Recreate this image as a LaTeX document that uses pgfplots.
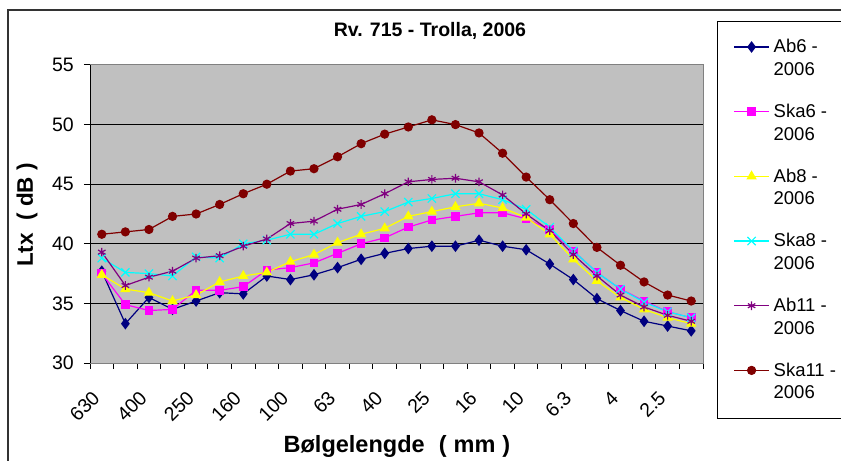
\documentclass[border=0pt]{standalone}
\usepackage{fontspec}
\setmainfont{Liberation Sans}
\usepackage{pgfplots}
\usepackage{pgfplotstable}
\pgfplotsset{compat=1.18}
\definecolor{plotgray}{RGB}{192,192,192}
\definecolor{cnavy}{RGB}{0,0,128}
\definecolor{cmag}{RGB}{255,0,255}
\definecolor{cyel}{RGB}{255,255,0}
\definecolor{ccyan}{RGB}{0,255,255}
\definecolor{cpurp}{RGB}{128,0,128}
\definecolor{cdred}{RGB}{128,0,0}

% Lt values per wavelength band (630 mm ... 2 mm)
\pgfplotstableread{
i  Ab6  Ska6 Ab8  Ska8 Ab11 Ska11
0  37.7 37.5 37.4 38.8 39.3 40.8
1  33.3 34.9 36.2 37.6 36.5 41.0
2  35.5 34.4 35.9 37.5 37.2 41.2
3  34.5 34.5 35.2 37.3 37.7 42.3
4  35.2 36.1 35.7 38.9 38.8 42.5
5  35.9 36.1 36.8 38.8 39.0 43.3
6  35.8 36.4 37.3 40.0 39.8 44.2
7  37.3 37.8 37.6 40.3 40.4 45.0
8  37.0 38.0 38.5 40.8 41.7 46.1
9  37.4 38.4 39.1 40.8 41.9 46.3
10 38.0 39.2 40.1 41.7 42.9 47.3
11 38.7 40.0 40.8 42.3 43.3 48.4
12 39.2 40.5 41.3 42.7 44.2 49.2
13 39.6 41.4 42.3 43.5 45.2 49.8
14 39.8 42.0 42.7 43.8 45.4 50.4
15 39.8 42.3 43.1 44.2 45.5 50.0
16 40.3 42.6 43.4 44.2 45.2 49.3
17 39.8 42.6 43.0 43.7 44.1 47.6
18 39.5 42.1 42.2 42.9 42.5 45.6
19 38.3 41.2 40.8 41.4 41.1 43.7
20 37.0 39.4 38.7 39.4 39.1 41.7
21 35.4 37.6 36.9 37.6 37.3 39.7
22 34.4 36.2 35.5 36.2 35.7 38.2
23 33.5 35.2 34.5 35.1 34.7 36.8
24 33.1 34.3 33.8 34.3 34.0 35.7
25 32.7 33.8 33.3 33.8 33.5 35.2
}\lt

\begin{document}
\begin{tikzpicture}
\clip (0,0) rectangle (841bp,461bp);
\draw[line width=2bp, black!80] (8bp,-5bp) -- (8bp,451bp) -- (860bp,451bp);
\begin{axis}[
    at={(90bp,98bp)}, anchor=south west,
    scale only axis, width=613bp, height=298bp,
    xmin=-0.5, xmax=25.5, ymin=30, ymax=55,
    axis background/.style={fill=plotgray},
    axis line style={draw=black!50, line width=1bp},
    tick pos=left, tick align=outside,
    tick style={black, line width=1bp},
    major tick length=6bp,
    xtick={-0.5,0.5,...,25.5}, xticklabels={},
    extra x ticks={0,2,...,24},
    extra x tick labels={630,400,250,160,100,63,40,25,16,10,6.3,4,2.5},
    extra x tick style={major tick length=0pt, grid=none},
    xticklabel style={xshift=-5.5bp, yshift=-31.5bp, rotate=45, anchor=east, inner sep=0pt},
    ytick={30,35,...,55},
    yticklabel style={anchor=east, inner sep=0pt, xshift=-10bp},
    ymajorgrids, grid style={black, line width=1bp},
    ticklabel style={font=\fontsize{19.5bp}{22bp}\selectfont},
    /pgf/number format/assume math mode=true,
    title={\bfseries Rv. 715 - Trolla, 2006},
    title style={at={(axis description cs:0.5546,1.094)}, anchor=center,
        font=\fontsize{19.5bp}{22bp}\selectfont},
    xlabel={\bfseries Bølgelengde\hspace{0.6em}(\hspace{0.3em}mm\hspace{0.3em})},
    xlabel style={at={(axis description cs:0.5008,-0.2785)}, anchor=center,
        font=\fontsize{23.5bp}{26bp}\selectfont},
    ylabel={\bfseries Ltx\ \ ( dB )},
    ylabel style={at={(axis description cs:-0.1028,0.497)}, anchor=center,
        font=\fontsize{22.5bp}{26bp}\selectfont},
    legend style={at={(1.0228,1.1477)}, anchor=north west,
        draw=black, line width=1bp, fill=white,
        inner xsep=16bp, inner ysep=16bp, row sep=23.2bp, column sep=2bp,
        cells={anchor=west, align=left, inner sep=0pt},
        font=\fontsize{18.5bp}{22.6bp}\selectfont},
    legend image code/.code={%
        \draw[mark repeat=2, mark phase=2, #1]
            plot coordinates {(0bp,11.25bp) (17.5bp,11.25bp) (35bp,11.25bp)};},
]
\draw[black, line width=1bp] (rel axis cs:0,1) -- (rel axis cs:0,0) -- (rel axis cs:1,0);
\addplot[cnavy, line width=1.2bp, mark=diamond*, mark size=4.9bp, mark options={fill=cnavy}]
    table[x=i, y=Ab6] {\lt};
\addlegendentry{Ab6 -\\2006}
\addplot[cmag, line width=1.2bp, mark=square*, mark size=3.7bp, mark options={fill=cmag}]
    table[x=i, y=Ska6] {\lt};
\addlegendentry{Ska6 -\\2006}
\addplot[cyel, line width=1.2bp, mark=triangle*, mark size=4.8bp, mark options={fill=cyel}]
    table[x=i, y=Ab8] {\lt};
\addlegendentry{Ab8 -\\2006}
\addplot[ccyan, line width=1.2bp, mark=x, mark size=5.8bp]
    table[x=i, y=Ska8] {\lt};
\addlegendentry{Ska8 -\\2006}
\addplot[cpurp, line width=1.2bp, mark=asterisk, mark size=4.3bp]
    table[x=i, y=Ab11] {\lt};
\addlegendentry{Ab11 -\\2006}
\addplot[cdred, line width=1.2bp, mark=*, mark size=4bp, mark options={fill=cdred}]
    table[x=i, y=Ska11] {\lt};
\addlegendentry{Ska11 -\\2006}
\end{axis}
\end{tikzpicture}
\end{document}
